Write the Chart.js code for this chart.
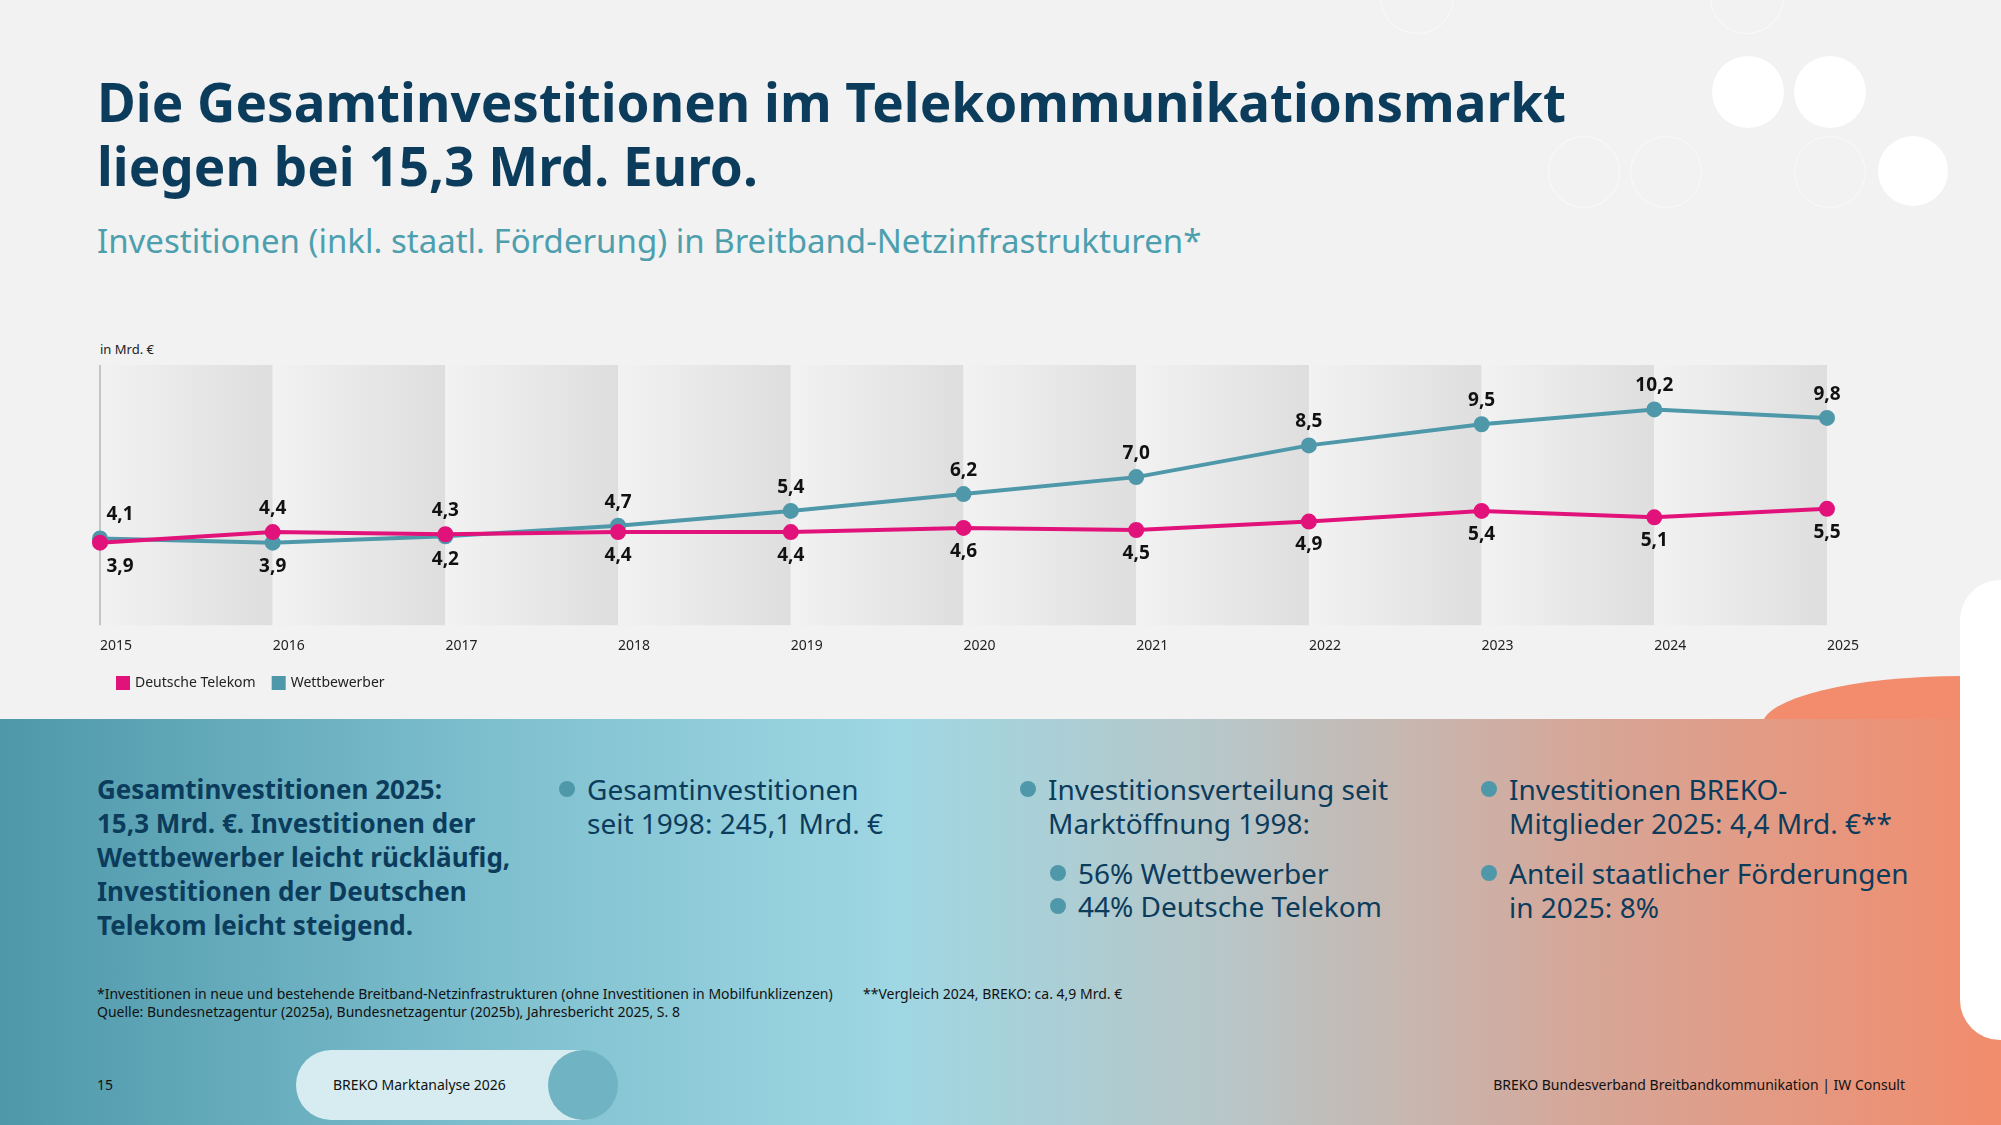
<!DOCTYPE html>
<html>
<head>
<meta charset="utf-8">
<script src="https://cdn.jsdelivr.net/npm/chart.js@4.4.0/dist/chart.umd.min.js"></script>
<style>
  body { margin: 0; width: 2001px; height: 1125px; overflow: hidden; background: #f2f2f2; font-family: "Noto Sans", sans-serif; position: relative; }
  .abs { position: absolute; }
  h1 { position: absolute; left: 97px; top: 70px; margin: 0; font-size: 53px; line-height: 64px; color: #0c3c5c; font-weight: 700; }
  .sub { left: 97px; top: 218px; font-size: 33px; color: #4d9fae; }
  .unit { left: 100px; top: 340px; font-size: 13px; color: #222; }
  .panel { left: 0; top: 719px; width: 2001px; height: 406px;
    background: linear-gradient(90deg, #4e98aa 0%, #7fc0cf 25%, #9fd7e3 45%, #b9c5c6 62%, #d7a596 80%, #f28c6c 100%); }
  .blob { left: 1762px; top: 676px; width: 240px; height: 60px; background: #f28c6c; border-radius: 200px 0 0 0 / 50px 0 0 0; }
  .blob2 { left: 1960px; top: 580px; width: 80px; height: 460px; background: #fff; border-radius: 40px; }
  .txt { color: #0c3c5c; font-size: 28px; line-height: 34px; }
  .bold { font-weight: 700; font-size: 26px; }
  .dot::before { content: ""; position: absolute; left: -28px; top: 9px; width: 16px; height: 16px; border-radius: 50%; background: #4e98aa; }
  .small { font-size: 14px; color: #111; line-height: 18px; }
  .pill { left: 296px; top: 1050px; width: 318px; height: 70px; border-radius: 35px; background: #d6ecf0; }
  .pillc { left: 548px; top: 1050px; width: 70px; height: 70px; border-radius: 50%; background: #70b3c3; }
  .circ { border: 1.5px solid rgba(255,255,255,0.6); border-radius: 50%; }
</style>
</head>
<body>
<div class="abs circ" style="left:1380px;top:-40px;width:72px;height:72px"></div>
<div class="abs circ" style="left:1710px;top:-40px;width:72px;height:72px"></div>
<div class="abs" style="left:1712px;top:56px;width:72px;height:72px;border-radius:50%;background:#fff"></div>
<div class="abs" style="left:1794px;top:56px;width:72px;height:72px;border-radius:50%;background:#fff"></div>
<div class="abs circ" style="left:1548px;top:136px;width:70px;height:70px"></div>
<div class="abs circ" style="left:1630px;top:136px;width:70px;height:70px"></div>
<div class="abs circ" style="left:1794px;top:136px;width:70px;height:70px"></div>
<div class="abs" style="left:1878px;top:136px;width:70px;height:70px;border-radius:50%;background:#fff"></div>

<h1>Die Gesamtinvestitionen im Telekommunikationsmarkt<br>liegen bei 15,3 Mrd. Euro.</h1>
<div class="abs sub">Investitionen (inkl. staatl. Förderung) in Breitband-Netzinfrastrukturen*</div>
<div class="abs unit">in Mrd. €</div>
<div class="abs" style="left:60px;top:355px;width:1830px;height:345px"><canvas id="chart"></canvas></div>

<div class="abs blob"></div>
<div class="abs panel"></div>
<div class="abs blob2"></div>
<div class="abs pill"></div>
<div class="abs pillc"></div>

<div class="abs txt bold" style="left:97px;top:772px;width:440px">Gesamtinvestitionen 2025:<br>15,3 Mrd. €. Investitionen der Wettbewerber leicht rückläufig, Investitionen der Deutschen Telekom leicht steigend.</div>
<div class="abs txt dot" style="left:587px;top:772px">Gesamtinvestitionen<br>seit 1998: 245,1 Mrd. €</div>
<div class="abs txt dot" style="left:1048px;top:772px">Investitionsverteilung seit<br>Marktöffnung 1998:</div>
<div class="abs txt dot" style="left:1078px;top:856px">56% Wettbewerber</div>
<div class="abs txt dot" style="left:1078px;top:889px">44% Deutsche Telekom</div>
<div class="abs txt dot" style="left:1509px;top:772px">Investitionen BREKO-<br>Mitglieder 2025: 4,4 Mrd. €**</div>
<div class="abs txt dot" style="left:1509px;top:856px">Anteil staatlicher Förderungen<br>in 2025: 8%</div>

<div class="abs small" style="left:97px;top:985px">*Investitionen in neue und bestehende Breitband-Netzinfrastrukturen (ohne Investitionen in Mobilfunklizenzen)<br>Quelle: Bundesnetzagentur (2025a), Bundesnetzagentur (2025b), Jahresbericht 2025, S. 8</div>
<div class="abs small" style="left:863px;top:985px">**Vergleich 2024, BREKO: ca. 4,9 Mrd. €</div>
<div class="abs small" style="left:97px;top:1076px">15</div>
<div class="abs small" style="left:333px;top:1076px">BREKO Marktanalyse 2026</div>
<div class="abs small" style="right:96px;top:1076px">BREKO Bundesverband Breitbandkommunikation | IW Consult</div>

<script>
const years = ["2015", "2016", "2017", "2018", "2019", "2020", "2021", "2022", "2023", "2024", "2025"];
const telekom = [3.9, 4.4, 4.3, 4.4, 4.4, 4.6, 4.5, 4.9, 5.4, 5.1, 5.5];
const wettbewerber = [4.1, 3.9, 4.2, 4.7, 5.4, 6.2, 7.0, 8.5, 9.5, 10.2, 9.8];

const pink = "#e2127b";
const teal = "#4e98aa";

// grey gradient bands between the years
const bands = {
  id: "bands",
  beforeDatasetsDraw(chart) {
    const { ctx, chartArea, scales } = chart;
    for (let i = 0; i < years.length - 1; i++) {
      const x0 = scales.x.getPixelForValue(i);
      const x1 = scales.x.getPixelForValue(i + 1);
      const g = ctx.createLinearGradient(x0, 0, x1, 0);
      g.addColorStop(0, "#f2f2f2");
      g.addColorStop(1, "#dedede");
      ctx.fillStyle = g;
      ctx.fillRect(x0, chartArea.top, x1 - x0, chartArea.bottom - chartArea.top);
    }
    ctx.strokeStyle = "#999";
    ctx.lineWidth = 1;
    const xl = scales.x.getPixelForValue(0);
    ctx.beginPath();
    ctx.moveTo(xl, chartArea.top);
    ctx.lineTo(xl, chartArea.bottom);
    ctx.stroke();
  }
};

// value labels: bigger value above, smaller below
const valueLabels = {
  id: "valueLabels",
  afterDatasetsDraw(chart) {
    const { ctx, scales } = chart;
    ctx.save();
    ctx.font = "bold 19px 'Noto Sans'";
    ctx.fillStyle = "#111";
    for (let i = 0; i < years.length; i++) {
      const x = scales.x.getPixelForValue(i) + (i === 0 ? 20 : 0);
      const hi = Math.max(telekom[i], wettbewerber[i]);
      const lo = Math.min(telekom[i], wettbewerber[i]);
      ctx.textAlign = "center";
      ctx.textBaseline = "bottom";
      ctx.fillText(hi.toFixed(1).replace(".", ","), x, scales.y.getPixelForValue(hi) - 14);
      ctx.textBaseline = "top";
      ctx.fillText(lo.toFixed(1).replace(".", ","), x, scales.y.getPixelForValue(lo) + 14);
    }
    ctx.restore();
  }
};

new Chart(document.getElementById("chart"), {
  type: "line",
  data: {
    labels: years,
    datasets: [
      { label: "Deutsche Telekom", data: telekom, borderColor: pink, backgroundColor: pink, borderWidth: 4, pointRadius: 6, order: 0 },
      { label: "Wettbewerber", data: wettbewerber, borderColor: teal, backgroundColor: teal, borderWidth: 4, pointRadius: 6, order: 1 }
    ]
  },
  options: {
    responsive: true,
    maintainAspectRatio: false,
    animation: false,
    layout: { padding: { left: 40, right: 63 } },
    plugins: {
      tooltip: { enabled: false },
      legend: {
        position: "bottom", align: "start",
        labels: { boxWidth: 10, boxHeight: 10, color: "#222", font: { size: 14, family: "Noto Sans" }, padding: 18 }
      }
    },
    scales: {
      x: {
        grid: { display: false }, border: { display: false },
        ticks: { color: "#222", font: { size: 14, family: "Noto Sans" }, padding: 4, align: "start" }
      },
      y: { display: false, min: 0, max: 12.3 }
    }
  },
  plugins: [bands, valueLabels]
});
</script>
</body>
</html>
